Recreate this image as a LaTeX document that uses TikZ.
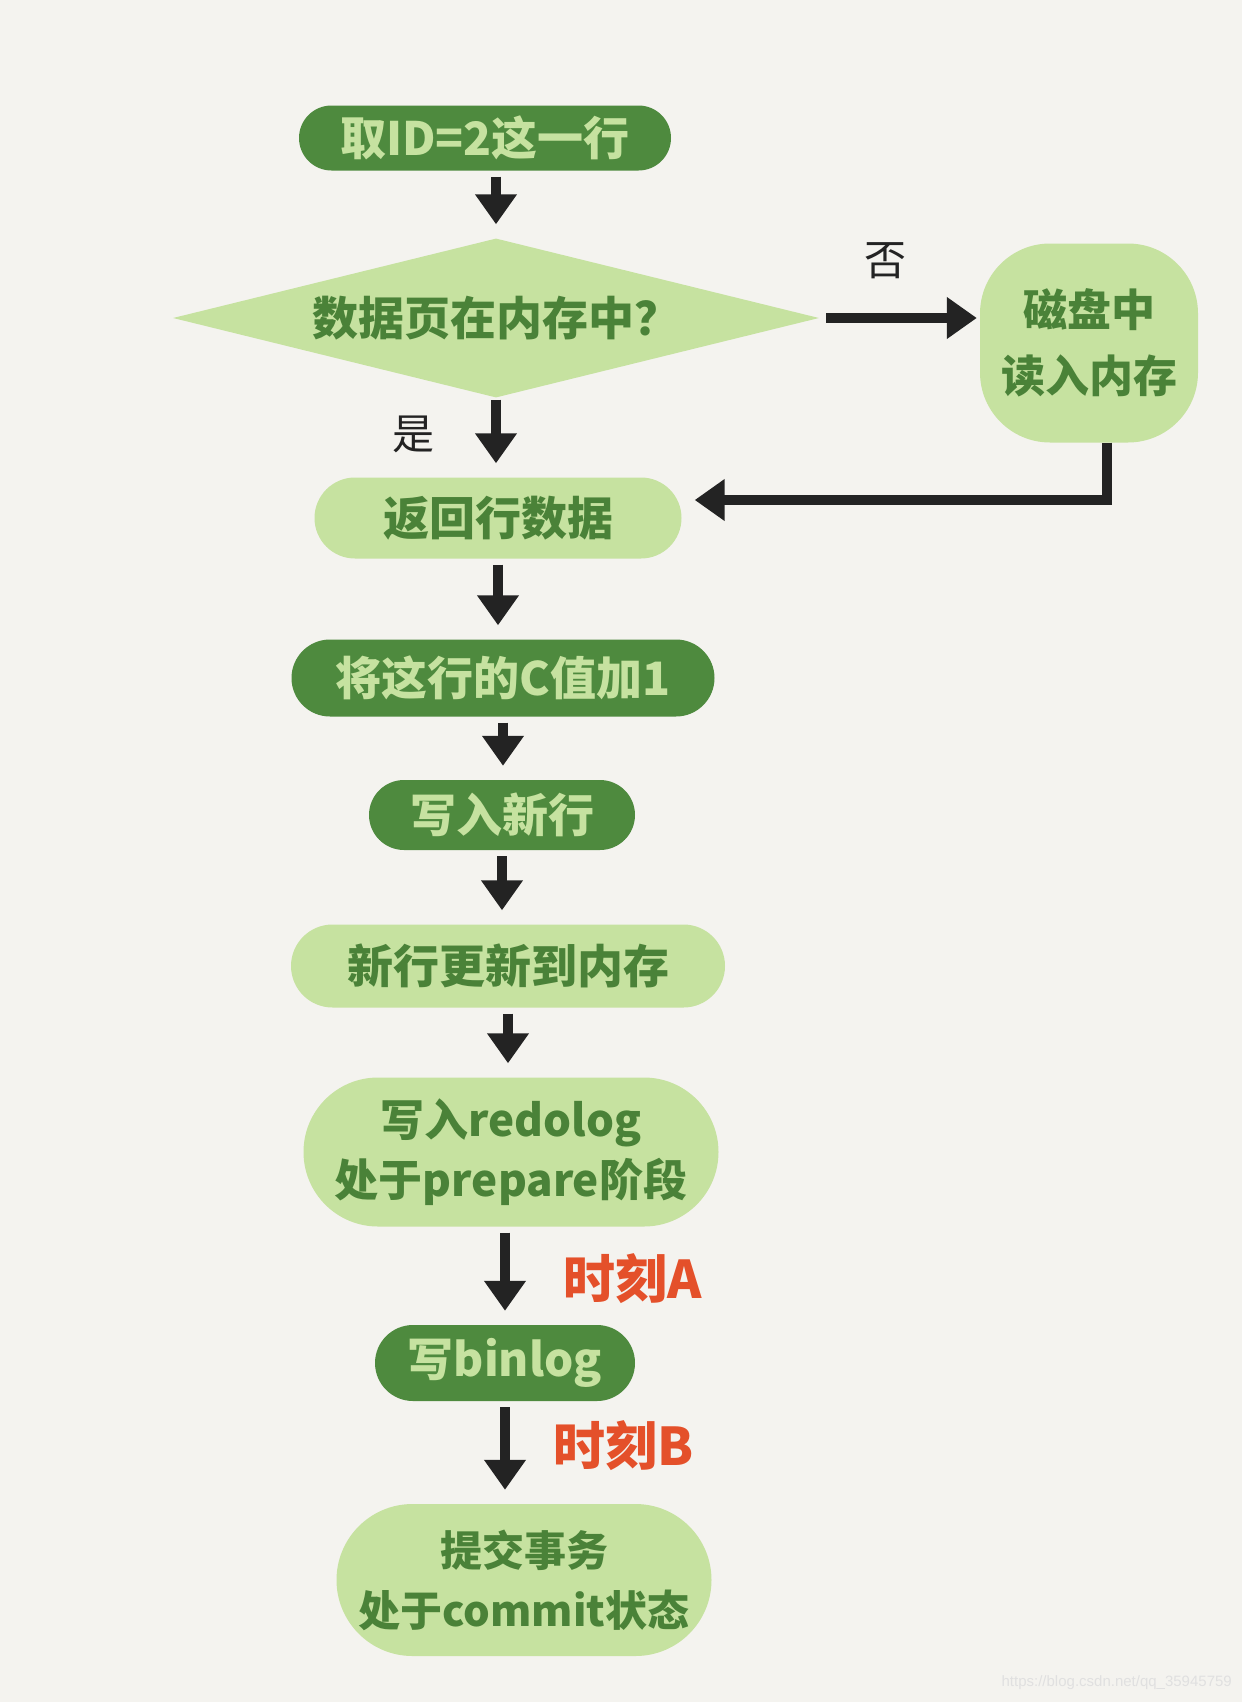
\documentclass[tikz,border=0pt]{standalone}
\usepackage{fontspec}
\setmainfont{Noto Sans CJK SC}
\newfontfamily\wmfont{Liberation Sans}
\usetikzlibrary{shapes.geometric,shapes.misc,arrows.meta}
\definecolor{bgcol}{HTML}{F4F3EF}
\definecolor{dkgreen}{HTML}{4E8A3E}
\definecolor{ltgreen}{HTML}{C6E2A0}
\definecolor{txgreen}{HTML}{4A8238}
\definecolor{arrcol}{HTML}{232323}
\definecolor{tmred}{HTML}{E4502A}

\begin{document}
\begin{tikzpicture}[x=1pt, y=-1pt]
\tikzset{DarkStep/.style = {shape=rounded rectangle, fill=dkgreen, text=ltgreen, inner sep=0pt, font=\fontsize{46}{60}\selectfont\bfseries}}
\tikzset{LightStep/.style = {shape=rounded rectangle, fill=ltgreen, text=txgreen, inner sep=0pt, align=center, font=\fontsize{46}{60}\selectfont\bfseries}}
\tikzset{Flow/.style = {draw=arrcol, line width=10pt, -{Triangle[width=40pt,length=30pt]}, shorten <=6pt, shorten >=14pt}}
\tikzset{Mark/.style = {text=tmred, font=\fontsize{52}{60}\selectfont\bfseries}}
	\useasboundingbox[fill=bgcol] (0,0) rectangle (1242,1702);

	\node[DarkStep, minimum width=372pt, minimum height=65pt] (take) at (485,138) {取ID=2这一行};
	\node[shape=diamond, fill=ltgreen, text=txgreen, inner sep=0pt, aspect=4.06, minimum width=646pt, minimum height=159pt, font=\fontsize{46}{60}\selectfont\bfseries] (inmem) at (496,318) {数据页在内存中？};
	\node[shape=rectangle, rounded corners=70pt, fill=ltgreen, text=txgreen, align=center, minimum width=218pt, minimum height=199pt, inner sep=0pt, font=\fontsize{44}{66}\selectfont\bfseries] (disk) at (1089,343) {磁盘中\\读入内存};
	\node[LightStep, minimum width=367pt, minimum height=81pt] (ret) at (498,518) {返回行数据};
	\node[DarkStep, minimum width=423pt, minimum height=77pt] (incr) at (503,678) {将这行的C值加1};
	\node[DarkStep, minimum width=266pt, minimum height=70pt] (wrow) at (502,815) {写入新行};
	\node[LightStep, minimum width=434pt, minimum height=83pt] (upd) at (508,966) {新行更新到内存};
	\node[LightStep, minimum width=415pt, minimum height=149pt, font=\fontsize{44}{60}\selectfont\bfseries] (redo) at (511,1152) {写入redolog\\处于prepare阶段};
	\node[DarkStep, minimum width=260pt, minimum height=76pt] (binlog) at (505,1363) {写binlog};
	\node[LightStep, minimum width=375pt, minimum height=152pt, font=\fontsize{42}{60}\selectfont\bfseries] (commit) at (524,1580) {提交事务\\处于commit状态};

	\draw[Flow] (inmem |- take.south) -- (inmem.north);
	\draw[Flow, shorten <=2pt] (inmem.south) -- (inmem.south |- ret.north);
	\draw[Flow, shorten <=7pt, shorten >=3pt] (inmem.east) -- (inmem.east -| disk.west);
	\draw[Flow, shorten <=0pt, shorten >=13pt] ([xshift=18pt]disk.south) |- ([yshift=18pt]ret.east);
	\draw[Flow] (ret.south) -- (ret.south |- incr.north);
	\draw[Flow] (incr.south) -- (incr.south |- wrow.north);
	\draw[Flow] (wrow.south) -- (wrow.south |- upd.north);
	\draw[Flow] (upd.south) -- (upd.south |- redo.north);
	\draw[Flow] (binlog |- redo.south) -- (binlog.north);
	\draw[Flow] (binlog.south) -- (binlog.south |- commit.north);

	\node[font=\fontsize{42}{50}\selectfont, text=arrcol] (no) at (885,261) {否};
	\node[font=\fontsize{42}{50}\selectfont, text=arrcol] (yes) at (413,434) {是};
	\node[Mark] (tA) at (633,1279) {时刻A};
	\node[Mark] (tB) at (624,1446) {时刻B};

	\node[anchor=east, inner sep=0pt, text=black!12, font=\wmfont\fontsize{15}{18}\selectfont] (wm) at (1232,1683) {https://blog.csdn.net/qq\_35945759};
\end{tikzpicture}
\end{document}
